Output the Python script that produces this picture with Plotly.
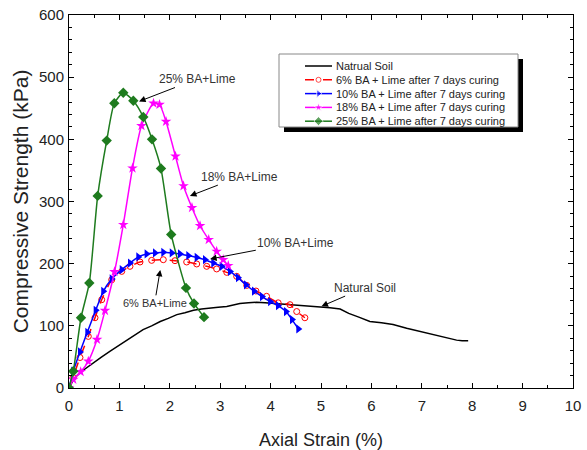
import plotly.graph_objects as go

# ---------------- data ----------------
soil_x = [0, 0.1, 0.22, 0.35, 0.48, 0.65, 0.81, 0.98, 1.15, 1.3, 1.47, 1.64, 1.81, 1.97, 2.14, 2.3,
          2.47, 2.63, 2.8, 2.96, 3.13, 3.26, 3.39, 3.56, 3.72, 3.89, 4.05, 4.25, 4.45, 4.7, 4.98,
          5.18, 5.38, 5.55, 5.75, 5.97, 6.2, 6.43, 6.7, 6.96, 7.15, 7.36, 7.52, 7.69, 7.8, 7.92]
soil_y = [0, 15, 25, 33, 41, 50, 59, 68, 78, 86, 94, 100, 107, 112, 118, 121,
          125, 127, 129, 130, 131, 134, 136, 137, 138, 137, 136, 135, 134, 133, 131,
          129, 127, 120, 114, 107, 105, 102, 96, 91, 88, 83, 80, 77, 76, 76]

ba6_x = [0, 0.08, 0.218, 0.383, 0.516, 0.649, 0.847, 1.046, 1.21, 1.409, 1.64, 1.871, 2.103, 2.335,
         2.534, 2.732, 2.93, 3.13, 3.327, 3.526, 3.71, 3.92, 4.15, 4.385, 4.518, 4.68]
ba6_y = [0, 17, 49, 83, 113, 142, 174, 187.6, 195.7, 202.7, 205.3, 206.4, 204.8, 202.7,
         199.5, 195.7, 191.5, 186, 179.6, 165, 156, 147.5, 137, 134, 123, 113]

ba10_x = [0, 0.085, 0.218, 0.363, 0.53, 0.68, 0.847, 1.046, 1.21, 1.375, 1.54, 1.706, 1.871, 2.038,
          2.202, 2.367, 2.534, 2.698, 2.863, 3.03, 3.194, 3.353, 3.512, 3.67, 3.83, 3.99, 4.147,
          4.306, 4.425, 4.55]
ba10_y = [0, 27, 58, 89.6, 125, 155.5, 175.4, 190.4, 201, 210.8, 215.6, 217.2, 218.2, 217.2,
          215.6, 212.9, 210, 206.4, 201, 195.7, 187.6, 177.5, 166, 155.8, 147, 139, 132.5,
          123, 110, 95]

ba18_x = [0, 0.085, 0.232, 0.383, 0.556, 0.714, 0.903, 1.077, 1.26, 1.438, 1.677, 1.796, 1.925,
          2.113, 2.272, 2.44, 2.6, 2.772, 2.93, 3.06, 3.16]
ba18_y = [0, 13.7, 26, 43, 78, 124.5, 187, 262.7, 353.7, 421.7, 458, 456, 428.6,
          372.7, 325, 290, 261, 238.6, 219.8, 206.4, 196.8]

ba25_x = [0, 0.085, 0.238, 0.403, 0.569, 0.748, 0.899, 1.077, 1.276, 1.474, 1.647, 1.825, 2.028,
          2.321, 2.48, 2.679]
ba25_y = [0, 27, 113, 169, 309, 398, 458, 475, 462, 436, 400, 353, 247,
          161, 136, 114]

legend_names = ["Natrual Soil",
                "6% BA + Lime after 7 days curing",
                "10% BA + Lime after 7 days curing",
                "18% BA + Lime after 7 days curing",
                "25% BA + Lime after 7 days curing"]

x_ticks = list(range(0, 11))
y_ticks = list(range(0, 601, 100))

# annotation labels: (text, text x, text y, arrow head x, arrow head y, font size)
labels = [
    ("25% BA+Lime", 2.54, 497, 1.39, 461, 12),
    ("18% BA+Lime", 3.39, 340, 2.40, 309, 12),
    ("10% BA+Lime", 4.50, 234, 2.80, 207.5, 12),
    ("6% BA+Lime", 1.70, 137, 1.81, 190, 11),
    ("Natural Soil", 5.87, 161.5, 5.01, 131.4, 12),
]

# ---------------- styles ----------------
series = [
    (soil_x, soil_y, dict(color="black", width=1.5), None, "lines"),
    (ba6_x, ba6_y, dict(color="#FF0000", width=1.5, dash="dash", shape="spline", smoothing=0.6),
     dict(symbol="circle-open", size=6, color="#FF0000", line=dict(width=1)), "lines+markers"),
    (ba10_x, ba10_y, dict(color="#0000FF", width=1.5, shape="spline", smoothing=0.6),
     dict(symbol="triangle-right", size=8, color="#0000FF"), "lines+markers"),
    (ba18_x, ba18_y, dict(color="#FF00FF", width=1.5, shape="spline", smoothing=0.6),
     dict(symbol="star", size=8, color="#FF00FF"), "lines+markers"),
    (ba25_x, ba25_y, dict(color="#1E7B1E", width=1.5, shape="spline", smoothing=0.6),
     dict(symbol="diamond", size=8, color="#1E7B1E"), "lines+markers"),
]

FONT = "Arial, Liberation Sans"
W, H = 587, 450
ml, mr, mt, mb = 69, 14, 15, 62

fig = go.Figure()

for (xs, ys, line, marker, mode), name in zip(series, legend_names):
    kw = dict(x=xs, y=ys, mode=mode, name=name, line=line, showlegend=False)
    if marker:
        kw["marker"] = marker
    fig.add_trace(go.Scatter(**kw))

for text, tx, ty, hx, hy, fs in labels:
    fig.add_annotation(x=hx, y=hy, ax=tx, ay=ty, xref="x", yref="y", axref="x", ayref="y",
                       text=text, showarrow=True, arrowhead=2, arrowsize=1.3, arrowwidth=1,
                       arrowcolor="black", standoff=0, startstandoff=0,
                       font=dict(family=FONT, size=fs, color="#333333"))

# ---------------- hand-made legend (pixel overlay axes) ----------------
box_l, box_r, box_t, box_b = 279, 518, 54, 127
shadow = 5
row_y0, row_dy = 66, 13.8
samp_l, samp_r, text_x = 305, 332, 334

fig.add_shape(type="rect", xref="x2", yref="y2", x0=box_l + shadow, x1=box_r + shadow,
              y0=box_t + shadow, y1=box_b + shadow, fillcolor="black", line=dict(width=0), layer="below")
fig.add_shape(type="rect", xref="x2", yref="y2", x0=box_l, x1=box_r, y0=box_t, y1=box_b,
              fillcolor="white", line=dict(color="#888888", width=1), layer="below")

for i, ((xs, ys, line, marker, mode), name) in enumerate(zip(series, legend_names)):
    ry = row_y0 + i * row_dy
    kw = dict(x=[samp_l, (samp_l + samp_r) / 2, samp_r], y=[ry, ry, ry], mode=mode,
              line={k: v for k, v in line.items() if k not in ("shape", "smoothing")},
              xaxis="x2", yaxis="y2", showlegend=False, hoverinfo="skip")
    if marker:
        m = dict(marker)
        m["size"] = [0, marker["size"] - 1, 0]
        kw["marker"] = m
    fig.add_trace(go.Scatter(**kw))
    fig.add_annotation(x=text_x, y=ry, xref="x2", yref="y2", text=name, showarrow=False,
                       xanchor="left", yanchor="middle",
                       font=dict(family=FONT, size=11, color="#222222"))

axis_common = dict(showline=True, linecolor="black", linewidth=1, mirror="allticks",
                   ticks="inside", ticklen=5, tickcolor="black", showgrid=False, zeroline=False,
                   tickfont=dict(family=FONT, size=15, color="#222222"))

fig.update_layout(
    width=W, height=H,
    margin=dict(l=ml, r=mr, t=mt, b=mb, autoexpand=False),
    paper_bgcolor="white", plot_bgcolor="white",
    showlegend=False,
    xaxis=dict(range=[0, 10], tickvals=x_ticks, ticklabelstandoff=4,
               minor=dict(dtick=0.5, ticks="inside", ticklen=3, tickcolor="black"),
               title=dict(text="Axial Strain (%)", standoff=20,
                          font=dict(family=FONT, size=18, color="#222222")),
               **axis_common),
    yaxis=dict(range=[0, 600], tickvals=y_ticks, ticklabelstandoff=1,
               minor=dict(dtick=20, ticks="inside", ticklen=3, tickcolor="black"),
               title=dict(text="Compressive Strength (kPa)", standoff=4,
                          font=dict(family=FONT, size=21, color="#222222")),
               **axis_common),
    xaxis2=dict(overlaying="x", range=[ml, W - mr], visible=False, fixedrange=True),
    yaxis2=dict(overlaying="y", range=[H - mb, mt], visible=False, fixedrange=True),
)

fig.write_html("out.html")
